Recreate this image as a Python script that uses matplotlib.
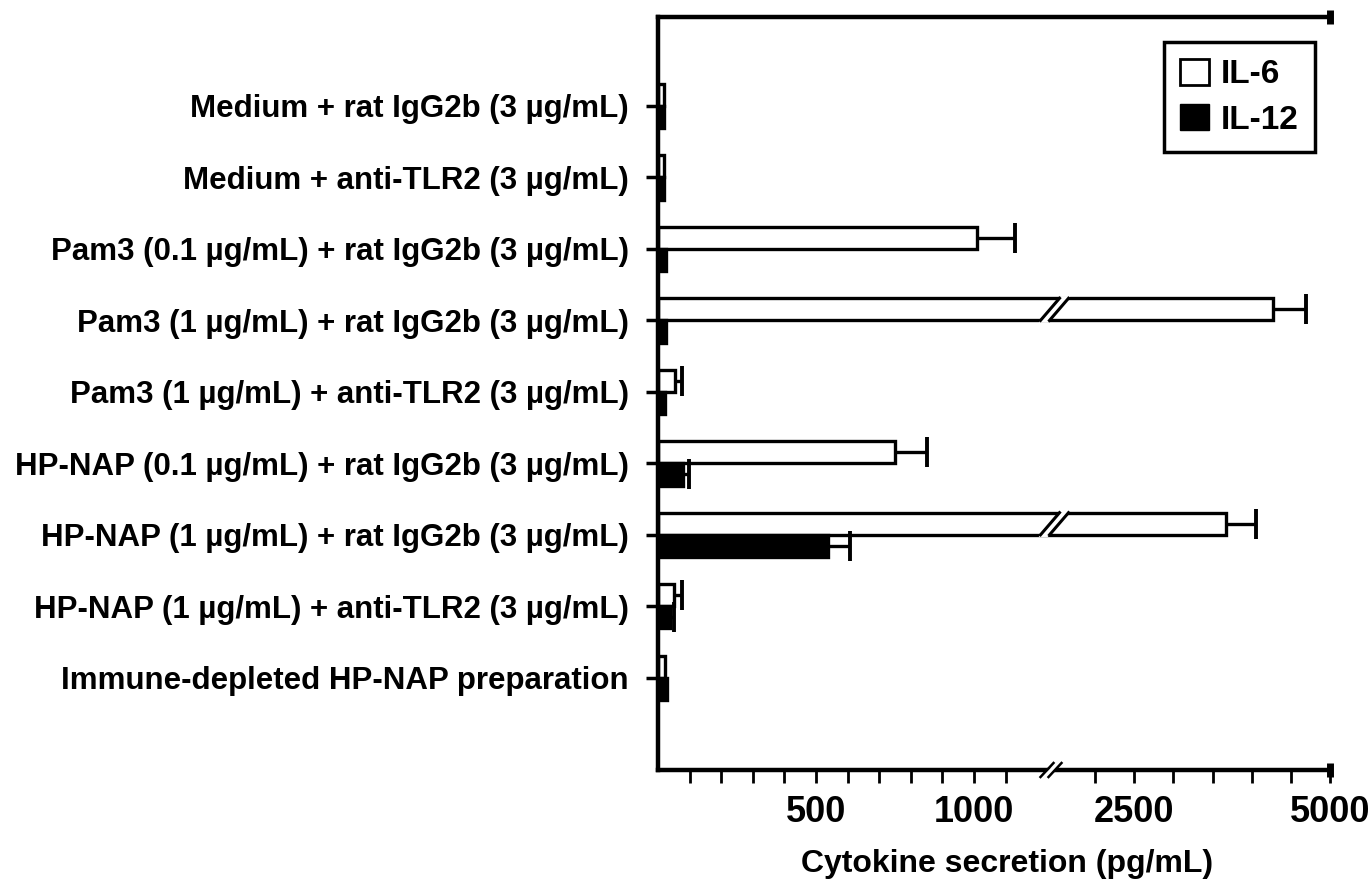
import numpy as np
import matplotlib
matplotlib.use('Agg')
import matplotlib.pyplot as plt
from matplotlib.patches import Patch, Polygon
from matplotlib.transforms import blended_transform_factory

# no condensed family available, Liberation Sans bold is the narrowest close match
plt.rcParams['font.family'] = ['Liberation Sans', 'DejaVu Sans']
plt.rcParams['font.weight'] = 'bold'

# data (pg/mL)
categories = [
    'Medium + rat IgG2b (3 µg/mL)',
    'Medium + anti-TLR2 (3 µg/mL)',
    'Pam3 (0.1 µg/mL) + rat IgG2b (3 µg/mL)',
    'Pam3 (1 µg/mL) + rat IgG2b (3 µg/mL)',
    'Pam3 (1 µg/mL) + anti-TLR2 (3 µg/mL)',
    'HP-NAP (0.1 µg/mL) + rat IgG2b (3 µg/mL)',
    'HP-NAP (1 µg/mL) + rat IgG2b (3 µg/mL)',
    'HP-NAP (1 µg/mL) + anti-TLR2 (3 µg/mL)',
    'Immune-depleted HP-NAP preparation',
]
il6 = [20, 20, 1010, 4270, 55, 750, 3670, 50, 22]
il6_err = [0, 0, 120, 420, 20, 100, 390, 25, 0]
il12 = [20, 20, 25, 25, 22, 80, 538, 38, 28]
il12_err = [0, 0, 0, 0, 0, 18, 70, 13, 0]

major_ticks = [100, 200, 300, 400, 500, 600, 700, 800, 900, 1000, 1100,
               2000, 2500, 3000, 3500, 4000, 4500, 5000]
labelled = {500: '500', 1000: '1000', 2500: '2500', 5000: '5000'}

# broken x axis: 0-1250 takes most of the width, 1500-5000 is squeezed after the break
BREAK_LO, BREAK_HI = 1250, 1500
seg_vals = [0, BREAK_LO, BREAK_HI, 5000]
seg_pos = [0, 395, 398, 672]


def fwd(x):
    return np.interp(x, seg_vals, seg_pos)


def inv(p):
    return np.interp(p, seg_pos, seg_vals)


FIG_W, FIG_H = 1370, 891
L, R, T, B = 658, 1330, 17, 770
AX_W, AX_H = R - L, B - T

fig = plt.figure(figsize=(FIG_W / 100, FIG_H / 100), dpi=100)
ax = fig.add_axes([L / FIG_W, 1 - B / FIG_H, AX_W / FIG_W, AX_H / FIG_H])
ax.set_xscale('function', functions=(fwd, inv))
ax.set_xlim(0, 5000)

ypos = np.arange(len(categories))
h = 0.31
ax.barh(ypos - h / 2, il6, height=h, color='white', edgecolor='black', linewidth=2.4, zorder=2)
ax.barh(ypos + h / 2, il12, height=h, color='black', edgecolor='black', linewidth=2.4, zorder=2)

# one-sided error bars, only where there is an error; hide the cap at the bar end
for vals, errs, off in [(il6, il6_err, -h / 2), (il12, il12_err, h / 2)]:
    v = np.array(vals)
    e = np.array(errs)
    m = e > 0
    eb = ax.errorbar(v[m], ypos[m] + off, xerr=[np.zeros(m.sum()), e[m]], fmt='none',
                     ecolor='black', elinewidth=2.4, capsize=11, capthick=2.8, zorder=3)
    eb[1][0].set_visible(False)

# break marks through the long bars
c = (fwd(BREAK_LO) + fwd(BREAK_HI)) / 2 / AX_W
px = 1.0 / AX_W
bt = blended_transform_factory(ax.transAxes, ax.transData)
for i, v in enumerate(il6):
    if v > BREAK_HI:
        bot = ypos[i]
        top = ypos[i] - h
        ext = 0.03
        sl = 19 * px / h  # horizontal shift per unit of bar height
        poly = Polygon([(c - 14 * px - sl * ext, bot + ext), (c + 5 * px + sl * ext, top - ext),
                        (c + 14 * px + sl * ext, top - ext), (c - 5 * px - sl * ext, bot + ext)],
                       closed=True, facecolor='white', edgecolor='none', transform=bt, zorder=4)
        ax.add_patch(poly)
        ax.plot([c - 14 * px, c + 5 * px], [bot, top], color='black', lw=2.2, transform=bt, zorder=5)
        ax.plot([c - 5 * px, c + 14 * px], [bot, top], color='black', lw=2.2, transform=bt, zorder=5)

# break mark on the x axis
py = 1.0 / AX_H
ax.add_patch(Polygon([(c - 12 * px, -6 * py), (c + 1 * px, 7 * py), (c + 7 * px, 7 * py), (c - 6 * px, -6 * py)],
                     closed=True, facecolor='white', edgecolor='none', transform=ax.transAxes,
                     clip_on=False, zorder=6))
ax.plot([c - 14 * px, c - 1 * px], [-7 * py, 7 * py], color='black', lw=1.8,
        transform=ax.transAxes, clip_on=False, zorder=7)
ax.plot([c - 6 * px, c + 7 * px], [-7 * py, 7 * py], color='black', lw=1.8,
        transform=ax.transAxes, clip_on=False, zorder=7)

ax.set_xticks(major_ticks, labels=[labelled.get(t, '') for t in major_ticks])
ax.xaxis.set_minor_locator(matplotlib.ticker.NullLocator())
ax.tick_params(axis='x', direction='out', length=9, width=2, pad=9, labelsize=26)
ax.set_yticks(ypos, labels=categories)
ax.tick_params(axis='y', direction='out', length=9, width=2.5, pad=12, labelsize=22.5)
ax.set_ylim(len(categories) - 1 + 1.29, -1.245)

for s in ['left', 'bottom', 'top']:
    ax.spines[s].set_linewidth(3.2)
ax.spines['right'].set_visible(False)
ax.plot([1, 1], [0, 1], transform=ax.transAxes, ls='none', marker='|', ms=10, mew=5,
        color='black', clip_on=False, zorder=8)

ax.set_xlabel('Cytokine secretion (pg/mL)', fontsize=23, fontweight='bold')
ax.xaxis.set_label_coords(0.52, -0.105)

handles = [Patch(facecolor='white', edgecolor='black', linewidth=2),
           Patch(facecolor='black', edgecolor='black')]
leg = ax.legend(handles, ['IL-6', 'IL-12'], loc='upper right',
                bbox_to_anchor=(0.9777, 0.9668), borderaxespad=0, fontsize=24,
                fancybox=False, framealpha=1, edgecolor='black',
                handlelength=0.85, handleheight=0.85, handletextpad=0.35,
                labelspacing=0.4, borderpad=0.5)
leg.get_frame().set_linewidth(2.5)

fig.savefig('out.png', dpi=100)
